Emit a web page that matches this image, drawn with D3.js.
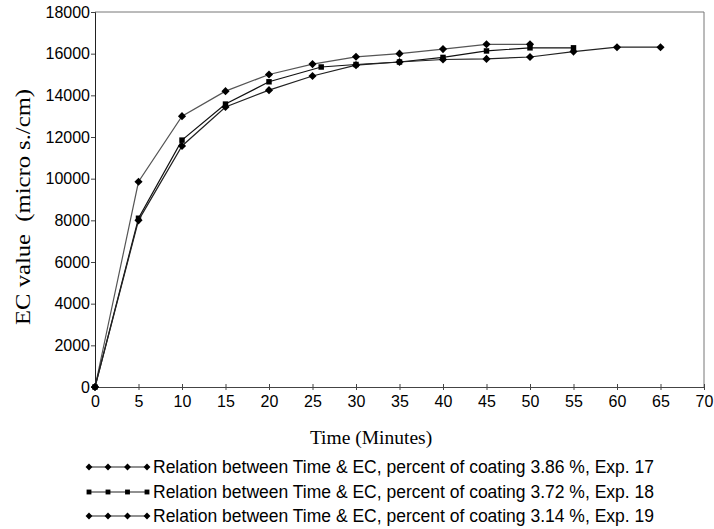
<!DOCTYPE html>
<html>
<head>
<meta charset="utf-8">
<script src="https://cdn.jsdelivr.net/npm/d3@7"></script>
<style>
  body { margin: 0; background: #fff; }
</style>
</head>
<body>
<script>
// EC value vs time for three coating percentages

var width = 714;
var height = 529;

var xTicks = [0, 5, 10, 15, 20, 25, 30, 35, 40, 45, 50, 55, 60, 65, 70];
var yTicks = [0, 2000, 4000, 6000, 8000, 10000, 12000, 14000, 16000, 18000];

var exp17Time = [0, 5, 10, 15, 20, 25, 30, 35, 40, 45, 50];
var exp17EC   = [0, 9850, 13000, 14200, 15000, 15500, 15850, 16000, 16220, 16450, 16450];

var exp18Time = [0, 5, 10, 15, 20, 26, 30, 35, 40, 45, 50, 55];
var exp18EC   = [0, 8100, 11850, 13580, 14650, 15360, 15480, 15600, 15820, 16130, 16280, 16280];

var exp19Time = [0, 5, 10, 15, 20, 25, 30, 35, 40, 45, 50, 55, 60, 65];
var exp19EC   = [0, 8000, 11570, 13440, 14250, 14930, 15450, 15600, 15720, 15750, 15840, 16100, 16310, 16310];

var legendLabels = [
    'Relation between Time & EC, percent of coating 3.86 %, Exp. 17',
    'Relation between Time & EC, percent of coating 3.72 %, Exp. 18',
    'Relation between Time & EC, percent of coating 3.14 %, Exp. 19'
];

var svg = d3.select('body').append('svg')
    .attr('width', width)
    .attr('height', height);

var plotLeft = 95, plotRight = 704, plotTop = 12, plotBottom = 387;

var x = d3.scaleLinear().domain([0, 70]).range([plotLeft, plotRight]);
var y = d3.scaleLinear().domain([0, 18000]).range([plotBottom, plotTop]);

var sans = 'Liberation Sans, Arial, sans-serif';
var serif = 'Liberation Serif, Times New Roman, serif';

// frame (top and right)
svg.append('path')
    .attr('d', 'M' + plotLeft + ',' + plotTop + 'H' + plotRight + 'V' + plotBottom)
    .attr('fill', 'none')
    .attr('stroke', '#777')
    .attr('stroke-width', 1);

var xAxis = svg.append('g')
    .attr('transform', 'translate(0,' + plotBottom + ')')
    .call(d3.axisBottom(x).tickValues(xTicks).tickSize(3).tickPadding(6).tickFormat(d3.format('d')));
xAxis.select('.domain').attr('stroke', '#444');
xAxis.selectAll('.tick line').attr('y1', -3).attr('stroke', '#444');
xAxis.selectAll('text')
    .attr('font-family', sans)
    .attr('font-size', 16)
    .attr('fill', '#000');

var yAxis = svg.append('g')
    .attr('transform', 'translate(' + plotLeft + ',0)')
    .call(d3.axisLeft(y).tickValues(yTicks).tickSize(4).tickFormat(d3.format('d')));
yAxis.select('.domain').attr('stroke', '#222');
yAxis.selectAll('.tick line').attr('stroke', '#444');
yAxis.selectAll('text')
    .attr('font-family', sans)
    .attr('font-size', 16)
    .attr('fill', '#000')
    .attr('x', -5);

// axis titles
svg.append('text')
    .attr('x', 371)
    .attr('y', 444)
    .attr('text-anchor', 'middle')
    .attr('font-family', serif)
    .attr('font-size', 19.5)
    .text('Time (Minutes)');

svg.append('text')
    .attr('transform', 'translate(30,207) rotate(-90)')
    .attr('text-anchor', 'middle')
    .attr('font-family', serif)
    .attr('font-size', 21)
    .attr('textLength', 236)
    .attr('lengthAdjust', 'spacingAndGlyphs')
    .attr('xml:space', 'preserve')
    .text('EC value  (micro s./cm)');

var diamond = d3.symbol().type(d3.symbolDiamond2).size(42);
var square = d3.symbol().type(d3.symbolSquare2).size(38);

var series = [
    { t: exp17Time, v: exp17EC, sym: diamond, legSym: d3.symbolDiamond2, col: '#555' },
    { t: exp18Time, v: exp18EC, sym: square, legSym: d3.symbolSquare2, col: '#111' },
    { t: exp19Time, v: exp19EC, sym: diamond, legSym: d3.symbolDiamond2, col: '#222' }
];

var line = d3.line()
    .x(function(d) { return x(d[0]); })
    .y(function(d) { return y(d[1]); });

series.forEach(function(s) {
    var pts = d3.zip(s.t, s.v);
    svg.append('path')
        .datum(pts)
        .attr('d', line)
        .attr('fill', 'none')
        .attr('stroke', s.col)
        .attr('stroke-width', 1.2);
    svg.selectAll(null)
        .data(pts)
        .enter().append('path')
        .attr('d', s.sym)
        .attr('transform', function(d) { return 'translate(' + x(d[0]) + ',' + y(d[1]) + ')'; })
        .attr('fill', '#000');
});

// legend
var legY = [467, 492, 516];
series.forEach(function(s, i) {
    var g = svg.append('g').attr('transform', 'translate(0,' + legY[i] + ')');
    g.append('line')
        .attr('x1', 89).attr('x2', 147)
        .attr('stroke', '#222').attr('stroke-width', 1.2);
    [89, 108, 127.5, 147].forEach(function(px) {
        g.append('path')
            .attr('d', d3.symbol().type(s.legSym).size(30)())
            .attr('transform', 'translate(' + px + ',0)')
            .attr('fill', '#000');
    });
    g.append('text')
        .attr('x', 153)
        .attr('dy', '0.36em')
        .attr('font-family', sans)
        .attr('font-size', 17.5)
        .text(legendLabels[i]);
});
</script>
</body>
</html>
